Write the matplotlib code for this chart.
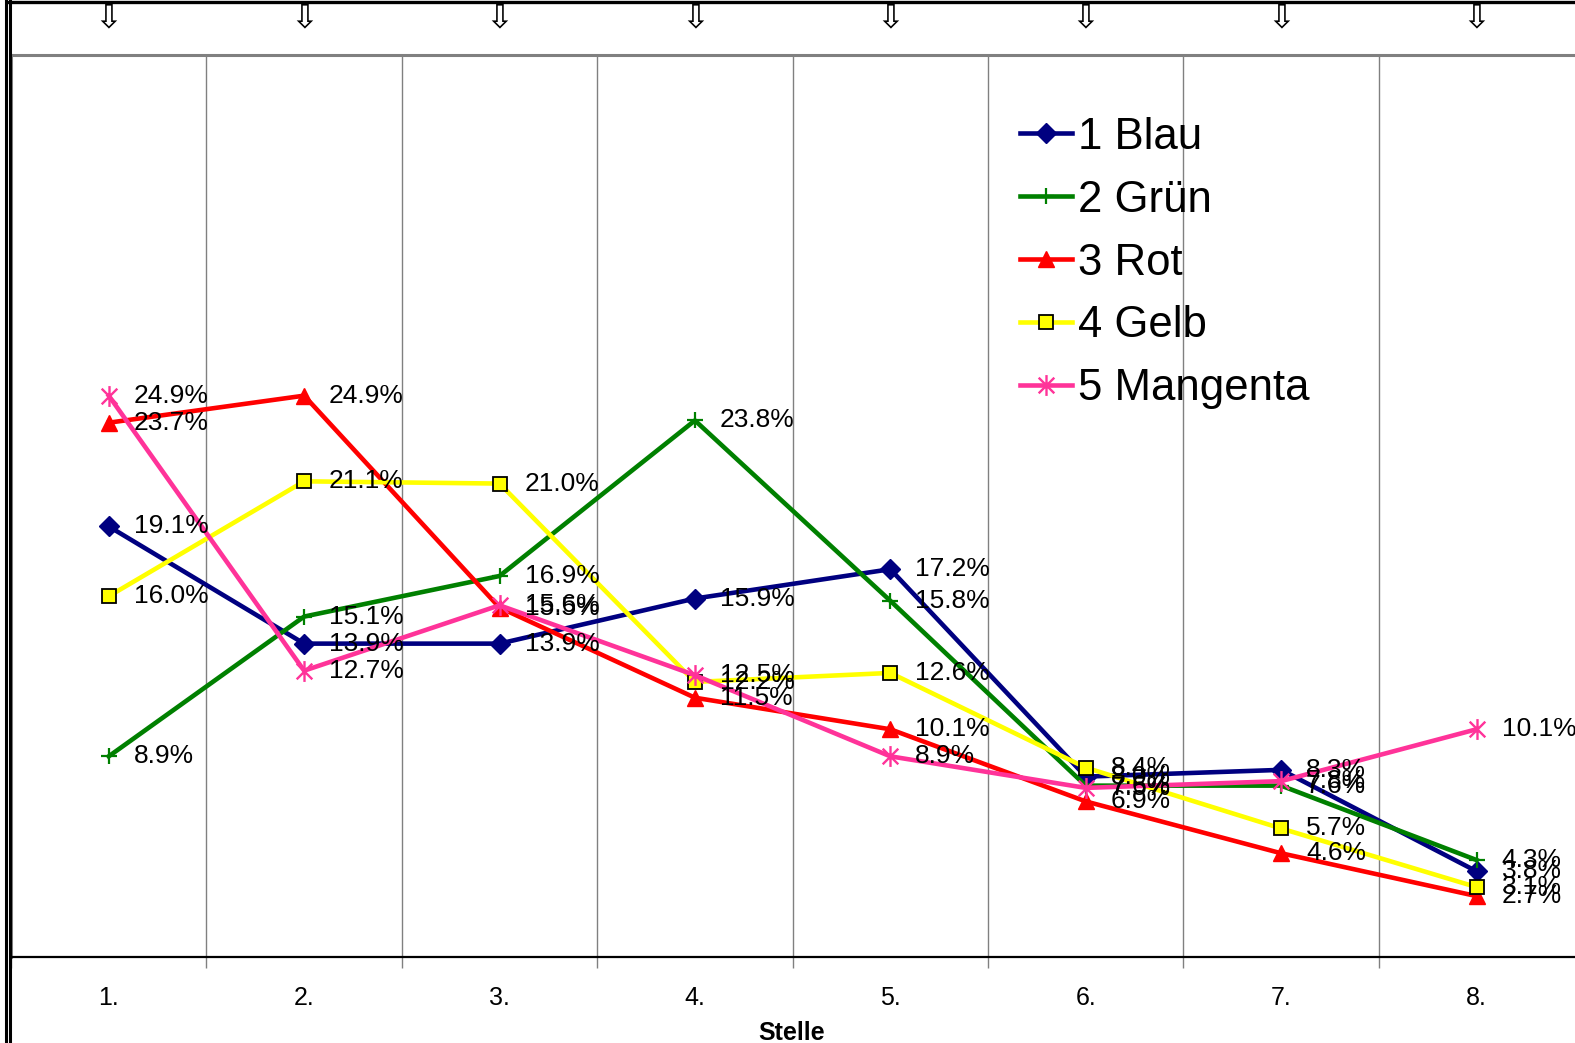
import matplotlib
matplotlib.use('Agg')
import matplotlib.pyplot as plt
from matplotlib.path import Path
from matplotlib.lines import Line2D

plt.rcParams['font.family'] = ['Liberation Sans', 'DejaVu Sans']

STELLEN = ['1.', '2.', '3.', '4.', '5.', '6.', '7.', '8.']
NAMES = ['1 Blau', '2 Grün', '3 Rot', '4 Gelb', '5 Mangenta']
BLAU = [19.1, 13.9, 13.9, 15.9, 17.2, 8.0, 8.3, 3.8]
GRUEN = [8.9, 15.1, 16.9, 23.8, 15.8, 7.6, 7.6, 4.3]
ROT = [23.7, 24.9, 15.5, 11.5, 10.1, 6.9, 4.6, 2.7]
GELB = [16.0, 21.1, 21.0, 12.2, 12.6, 8.4, 5.7, 3.1]
MANGENTA = [24.9, 12.7, 15.6, 12.5, 8.9, 7.5, 7.8, 10.1]

# excel style asterisk: vertical bar plus an x
ASTERISK = Path([(0, -1), (0, 1), (-0.75, -0.75), (0.75, 0.75), (-0.75, 0.75), (0.75, -0.75)],
                [Path.MOVETO, Path.LINETO] * 3)

STYLES = [
    dict(color='#000080', marker='D', ms=10, mfc='#000080', mec='#000080'),
    dict(color='#008000', marker='+', ms=11, mew=1.6, mec='#008000'),
    dict(color='#FF0000', marker='^', ms=12, mfc='#FF0000', mec='#FF0000'),
    dict(color='#FFFF00', marker='s', ms=10, mfc='#FFFF00', mec='black', mew=1.3),
    dict(color='#FF3399', marker=ASTERISK, ms=15, mew=1.7, mec='#FF3399', mfc='none'),
]
SERIES = [BLAU, GRUEN, ROT, GELB, MANGENTA]

fig = plt.figure(figsize=(15.75, 10.43), dpi=100)
ax = fig.add_axes([0.007, 0.0825, 0.9925, 0.8645])

x = list(range(1, len(STELLEN) + 1))
for name, vals, st in zip(NAMES, SERIES, STYLES):
    ax.plot(x, vals, lw=3.3, label=name, **st)
for vals in SERIES:
    for xi, v in zip(x, vals):
        ax.annotate('{:.1f}%'.format(v), (xi, v), xytext=(18, 0), textcoords='offset points',
                    ha='left', va='center', fontsize=19, color='black', zorder=5)

ax.set_xlim(0.5, 8.5)
ax.set_ylim(0, 40)
ax.set_yticks([])
ax.set_xticks(x)
ax.set_xticklabels(STELLEN, fontsize=18)
ax.set_xticks([i + 0.5 for i in range(0, 8)], minor=True)
ax.tick_params(axis='x', which='major', length=0, pad=21)
ax.tick_params(axis='x', which='minor', length=8, width=1, color='#808080')
ax.grid(True, which='minor', axis='x', color='#808080', lw=1)

for side in ['top', 'left']:
    ax.spines[side].set_color('#808080')
    ax.spines[side].set_linewidth(2.2)
ax.spines['right'].set_visible(False)
ax.spines['bottom'].set_color('black')
ax.spines['bottom'].set_linewidth(1.6)

# axis title close to the lower edge
fig.text(0.5025, 0.003, 'Stelle', ha='center', va='baseline', fontsize=18, fontweight='bold')

leg = ax.legend(loc='upper left', bbox_to_anchor=(0.6337, 0.909), bbox_transform=fig.transFigure,
                frameon=False, fontsize=31.5, handlelength=1.2, handletextpad=0.12,
                labelspacing=0.5, borderpad=0)

# spreadsheet frame around the chart
fig.add_artist(Line2D([0.0035, 0.0035], [0, 1], color='black', lw=2.2, transform=fig.transFigure))
fig.add_artist(Line2D([0.0065, 0.0065], [0, 1], color='black', lw=2.2, transform=fig.transFigure))
fig.add_artist(Line2D([0.006, 1], [0.9985, 0.9985], color='black', lw=2.4, transform=fig.transFigure))
for xi in x:
    xf = fig.transFigure.inverted().transform(ax.transData.transform((xi, 0)))[0]
    fig.text(xf, 0.9825, '⇩', ha='center', va='center', fontsize=24,
             family=['DejaVu Sans'])

fig.savefig('out.png', dpi=100)
